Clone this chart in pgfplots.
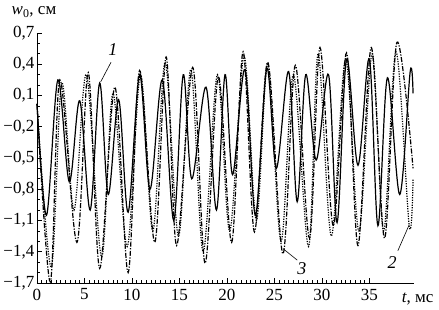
\documentclass[border=0pt]{standalone}
\usepackage{fontspec}
\setmainfont{Liberation Serif}
\usepackage{pgfplots}
\pgfplotsset{compat=1.18}
\begin{document}
\fontsize{17}{19}\selectfont
\begin{tikzpicture}
\begin{axis}[
  scale only axis, width=377pt, height=250pt,
  xmin=0, xmax=39.7, ymin=-1.7, ymax=0.7,
  axis x line=bottom, axis y line=left,
  axis line style={-, line width=0.8pt},
  tick align=inside,
  major tick length=5pt, minor tick length=3pt,
  every tick/.style={black, line width=0.7pt},
  xtick={0,5,10,15,20,25,30,35},
  xticklabels={0,5,10,15,20,25,30,35},
  minor x tick num=9,
  ytick={-1.7,-1.4,-1.1,-0.8,-0.5,-0.2,0.1,0.4,0.7},
  yticklabels={{−1,7},{−1,4},{−1,1},{−0,8},{−0,5},{−0,2},{0,1},{0,4},{0,7}},
  minor y tick num=2,
  ticklabel style={font=\fontsize{17}{19}\selectfont},
  yticklabel style={inner xsep=0.5pt, xshift=-2pt},
  clip=false,
]
\addplot[black, line width=1.2pt, smooth, tension=0.55] coordinates {
(0,0.02)(1.0,-1.05)(2.2,0.25)(3.4,-0.73)(4.5,0.05)(5.6,-1.0)(6.6,0.22)(7.5,-0.85)(8.6,0.06)(9.6,-1.02)(10.8,0.3)(11.9,-0.8)(13.2,0.25)(14.4,-1.1)(15.4,0.3)(16.3,-0.7)(17.8,0.18)(18.9,-1.0)(19.8,0.3)(20.6,-0.66)(21.9,0.35)(23.0,-1.05)(24.2,0.36)(25.2,-0.6)(26.5,0.33)(27.4,-0.92)(28.3,0.3)(29.4,-0.52)(30.7,0.3)(31.6,-1.12)(32.6,0.45)(33.8,-0.57)(35.0,0.45)(35.9,-1.15)(36.9,0.27)(38.2,-0.85)(39.3,0.33)(39.6,0.12)
};
\addplot[black, line width=1.2pt, smooth, tension=0.55, dash pattern=on 1.2pt off 1.3pt] coordinates {
(0,0.02)(1.5,-1.55)(2.6,0.22)(3.9,-1.0)(5.2,0.3)(6.8,-1.45)(8.0,0.12)(9.5,-1.35)(10.9,0.3)(12.2,-1.2)(13.5,0.42)(14.9,-1.25)(16.2,0.35)(17.5,-1.4)(19.0,0.3)(20.3,-1.2)(21.8,0.48)(23.1,-1.1)(24.3,0.4)(25.7,-1.3)(27.0,0.3)(28.6,-1.35)(29.6,0.5)(31.0,-1.25)(32.5,0.45)(33.9,-1.2)(35.3,0.5)(36.5,-1.2)(37.8,0.52)(39.2,-1.15)(39.6,-0.7)
};
\addplot[black, line width=1.2pt, smooth, tension=0.55, dash pattern=on 5pt off 1.5pt on 1.2pt off 1.5pt] coordinates {
(0,0.02)(1.4,-1.69)(2.4,0.25)(4.2,-1.31)(5.4,0.32)(6.6,-1.56)(8.2,0.18)(9.6,-1.6)(10.8,0.34)(12.4,-1.31)(13.6,0.47)(14.7,-1.34)(16.4,0.37)(17.7,-1.51)(19.1,0.28)(20.5,-1.31)(21.7,0.52)(22.9,-1.21)(24.3,0.42)(25.9,-1.42)(27.2,0.39)(28.7,-1.27)(29.8,0.56)(31.2,-1.15)(32.6,0.51)(33.8,-1.34)(35.2,0.56)(36.6,-1.27)(37.9,0.61)(39.6,-0.6)
};
\draw[black, line width=0.6pt] (axis cs:7.8,0.42) -- (axis cs:6.7,0.23);
\node[font=\fontsize{18}{20}\selectfont\itshape] at (axis cs:8.0,0.54) {1};
\draw[black, line width=0.6pt] (axis cs:25.9,-1.37) -- (axis cs:27.4,-1.48);
\node[font=\fontsize{18}{20}\selectfont\itshape] at (axis cs:27.9,-1.56) {3};
\draw[black, line width=0.6pt] (axis cs:38.0,-1.39) -- (axis cs:39.2,-1.14);
\node[font=\fontsize{18}{20}\selectfont\itshape] at (axis cs:37.4,-1.5) {2};
\node[font=\fontsize{17}{19}\selectfont] at ([xshift=-3pt,yshift=21pt]rel axis cs:0,1) {\textit{w}\textsubscript{0}, см};
\node[font=\fontsize{17}{19}\selectfont, anchor=base west] at ([xshift=-18pt,yshift=-20pt]rel axis cs:1,0) {\textit{t}, мс};
\end{axis}
\pgfresetboundingbox
\path ([shift={(-37pt,-27pt)}]current axis.south west) rectangle ([shift={(25pt,33pt)}]current axis.north east);
\end{tikzpicture}
\end{document}
